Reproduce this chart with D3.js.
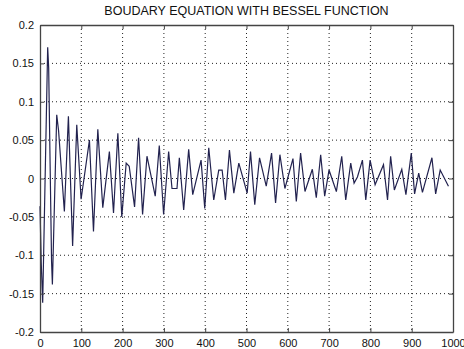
<!DOCTYPE html>
<html>
<head>
<meta charset="utf-8">
<script src="https://cdn.jsdelivr.net/npm/d3@7"></script>
<style>
  body { margin: 0; background: #fff; }
  text { font-family: "Liberation Sans", Arial, sans-serif; }
</style>
</head>
<body>
<div id="chart"></div>
<script>
// values (x = sample position, y = function value)
const xs = [0, 3, 6.5, 18.6, 21, 28, 30, 40.5, 45, 59, 68.8, 79, 89, 99.5, 119.7, 129.5, 140, 152, 168,
  178, 188.5, 198, 208.7, 216, 229, 238.7, 248.4, 259, 279, 288.8, 299.3, 311.5, 319.6, 331.7,
  337.4, 347.9, 360, 369.8, 390, 398.9, 408.6, 420.7, 432.8, 441, 449, 458.7, 469.3, 481.4, 501.6,
  509.7, 520, 531.6, 547.8, 560.7, 570.4, 580.9, 593, 612.5, 620.6, 631, 641.6, 659.4, 669,
  679.6, 689.3, 699.8, 717.6, 730.6, 740.3, 752.4, 760.5, 768.6, 780.7, 788.8, 799.3, 811.4, 831.7, 841.5,
  849, 858, 876, 886, 899, 907, 917, 926, 949, 958, 969, 989];
const ys = [-0.036, -0.11, -0.162, 0.171, 0.144, -0.108, -0.138, 0.083, 0.062, -0.043, 0.081, -0.088, 0.07, -0.027, 0.05, -0.069, 0.064, -0.038, 0.035,
  -0.045, 0.059, -0.05, 0.02, 0.016, -0.037, 0.053, -0.047, 0.029, -0.023, 0.043, -0.047, 0.035, -0.013, -0.013,
  0.027, -0.041, 0.038, -0.021, 0.024, -0.039, 0.04, -0.028, 0.011, 0.011, -0.028, 0.037, -0.019, 0.02, -0.019,
  0.035, -0.034, 0.027, -0.01, 0.033, -0.032, 0.031, -0.013, 0.026, -0.03, 0.033, -0.017, 0.012, -0.025,
  0.031, -0.023, 0.011, -0.017, 0.029, -0.028, 0.02, -0.006, 0.002, 0.024, -0.028, 0.024, -0.008, 0.018, -0.028,
  0.029, -0.015, 0.012, -0.021, 0.033, -0.02, 0.007, -0.018, 0.027, -0.02, 0.011, -0.01];

const xTicks = [0, 100, 200, 300, 400, 500, 600, 700, 800, 900, 1000];
const yTicks = [-0.2, -0.15, -0.1, -0.05, 0, 0.05, 0.1, 0.15, 0.2];
const titleText = "BOUDARY EQUATION WITH BESSEL FUNCTION";

const data = xs.map((x, i) => ({ x: x, y: ys[i] }));

const W = 464, H = 349;
const margin = { top: 25, right: 11, bottom: 17, left: 40 };
const width = W - margin.left - margin.right,
  height = H - margin.top - margin.bottom;

const svg = d3.select("#chart").append("svg")
  .attr("width", W).attr("height", H)
  .append("g")
  .attr("transform", `translate(${margin.left},${margin.top})`);

const x = d3.scaleLinear().domain([0, 1000]).range([0, width]);
const y = d3.scaleLinear().domain([-0.2, 0.2]).range([height, 0]);

// dotted grid
svg.append("g").selectAll("line").data(xTicks.slice(1, -1)).join("line")
  .attr("x1", d => x(d)).attr("x2", d => x(d))
  .attr("y1", 0).attr("y2", height)
  .attr("stroke", "#222").attr("stroke-width", 1).attr("stroke-dasharray", "1,3");
svg.append("g").selectAll("line").data(yTicks.slice(1, -1)).join("line")
  .attr("x1", 0).attr("x2", width)
  .attr("y1", d => y(d)).attr("y2", d => y(d))
  .attr("stroke", "#222").attr("stroke-width", 1).attr("stroke-dasharray", "1,3");

// the curve
svg.append("path")
  .datum(data)
  .attr("fill", "none")
  .attr("stroke", "#22224f")
  .attr("stroke-width", 1.2)
  .attr("d", d3.line().x(d => x(d.x)).y(d => y(d.y)));

const fmt = d => String(+d.toFixed(2));

// axes with inward ticks (matlab style)
svg.append("g").attr("transform", `translate(0,${height})`)
  .call(d3.axisBottom(x).tickValues(xTicks).tickSizeInner(-4).tickSizeOuter(0).tickPadding(7).tickFormat(d => d));
svg.append("g")
  .call(d3.axisLeft(y).tickValues(yTicks).tickSizeInner(-4).tickSizeOuter(0).tickPadding(6).tickFormat(fmt));
svg.append("g")
  .call(d3.axisTop(x).tickValues(xTicks).tickSizeInner(-4).tickSizeOuter(0).tickFormat(""));
svg.append("g").attr("transform", `translate(${width},0)`)
  .call(d3.axisRight(y).tickValues(yTicks).tickSizeInner(-4).tickSizeOuter(0).tickFormat(""));

svg.selectAll(".domain").attr("stroke", "#444").attr("stroke-width", 1.3);
svg.selectAll(".tick line").attr("stroke", "#444");
svg.selectAll(".tick text").attr("font-size", 11).attr("fill", "#111")
  .style("font-family", "'Liberation Sans', Arial, sans-serif");

svg.append("text")
  .attr("x", width / 2).attr("y", -10)
  .attr("text-anchor", "middle")
  .attr("font-size", 12.5)
  .attr("fill", "#111")
  .text(titleText);
</script>
</body>
</html>
